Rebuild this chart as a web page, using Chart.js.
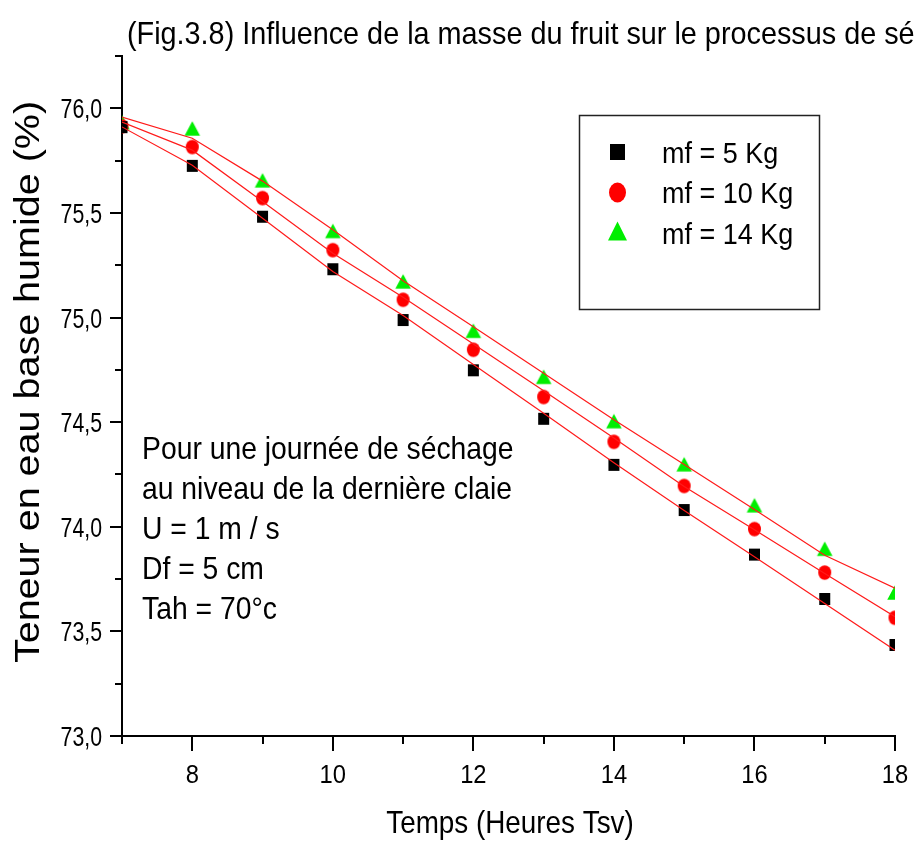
<!DOCTYPE html>
<html>
<head>
<meta charset="utf-8">
<script src="https://cdn.jsdelivr.net/npm/chart.js@4.4.0/dist/chart.umd.min.js"></script>
<style>
  html, body { margin: 0; padding: 0; background: #fff; }
  #wrap { width: 914px; height: 841px; position: relative; }
</style>
</head>
<body>
<div id="wrap"><canvas id="c"></canvas></div>
<script>
// Drying time (hours, solar time)
const hours = [7, 8, 9, 10, 11, 12, 13, 14, 15, 16, 17, 18];

// Measured moisture content, wet basis (%)
const mf5  = [75.91, 75.725, 75.482, 75.231, 74.988, 74.748, 74.516, 74.296, 74.080, 73.867, 73.655, 73.435];
const mf10 = [75.914, 75.815, 75.571, 75.322, 75.085, 74.846, 74.620, 74.406, 74.195, 73.989, 73.781, 73.565];
const mf14 = [75.934, 75.904, 75.656, 75.414, 75.173, 74.937, 74.717, 74.505, 74.299, 74.103, 73.895, 73.686];

// Fitted curves
const fit5  = [75.911, 75.728, 75.475, 75.220, 75.010, 74.776, 74.543, 74.306, 74.078, 73.857, 73.633, 73.410];
const fit10 = [75.934, 75.800, 75.555, 75.307, 75.097, 74.874, 74.650, 74.424, 74.193, 73.986, 73.777, 73.570];
const fit14 = [75.958, 75.857, 75.652, 75.420, 75.176, 74.956, 74.734, 74.512, 74.298, 74.083, 73.864, 73.706];

const seriesLabels = ['mf = 5 Kg', 'mf = 10 Kg', 'mf = 14 Kg'];

const yTicks = [73.0, 73.5, 74.0, 74.5, 75.0, 75.5, 76.0];
const xTicks = [8, 10, 12, 14, 16, 18];

const titleText = '(Fig.3.8) Influence de la masse du fruit sur le processus de séchage';
const xTitle = 'Temps (Heures Tsv)';
const yTitle = 'Teneur en eau base humide (%)';
const noteLines = [
  'Pour une journée de séchage',
  'au niveau de la dernière claie',
  'U = 1 m / s',
  'Df = 5 cm',
  'Tah = 70°c'
];

const FONT = '"Liberation Sans", Arial, Helvetica, sans-serif';

const pts = arr => hours.map((h, i) => ({ x: h, y: arr[i] }));

// Text with horizontal compression
function drawText(ctx, s, x, y, size, opts = {}) {
  ctx.save();
  ctx.font = size + 'px ' + FONT;
  ctx.fillStyle = '#000';
  ctx.textBaseline = 'alphabetic';
  ctx.textAlign = 'left';
  const sx = opts.sx || 1;
  const w = ctx.measureText(s).width * sx;
  let left = x;
  if (opts.align === 'center') left = x - w / 2;
  else if (opts.align === 'right') left = x - w;
  ctx.translate(left, y);
  ctx.scale(sx, 1);
  ctx.fillText(s, 0, 0);
  ctx.restore();
}

function shapePath(ctx, style, x, y, w, h) {
  ctx.beginPath();
  if (style === 'rect') {
    ctx.rect(x - w / 2, y - h / 2, w, h);
  } else if (style === 'circle') {
    ctx.ellipse(x, y, w / 2, h / 2, 0, 0, Math.PI * 2);
  } else {
    ctx.moveTo(x, y - h / 2);
    ctx.lineTo(x + w / 2, y + h / 2);
    ctx.lineTo(x - w / 2, y + h / 2);
    ctx.closePath();
  }
}

function drawMarker(ctx, style, color, x, y, w, h) {
  ctx.save();
  ctx.fillStyle = color;
  shapePath(ctx, style, x, y, w, h);
  ctx.fill();
  ctx.restore();
}

// Small sprite used as a point style (slightly taller than wide)
function sprite(style, color, w, h) {
  const c = document.createElement('canvas');
  c.width = Math.ceil(w) + 2;
  c.height = Math.ceil(h) + 2;
  const g = c.getContext('2d');
  g.fillStyle = color;
  shapePath(g, style, c.width / 2, c.height / 2, w, h);
  g.fill();
  return c;
}

const decor = {
  id: 'decor',
  afterDraw(chart) {
    const ctx = chart.ctx;
    const xs = chart.scales.x, ys = chart.scales.y;
    const area = chart.chartArea;

    ctx.save();
    ctx.strokeStyle = '#000';
    ctx.lineWidth = 2;
    // y ticks: major every 0.5, minor every 0.25
    for (let v = ys.min; v <= ys.max + 1e-9; v += 0.25) {
      const py = Math.round(ys.getPixelForValue(v));
      const major = Math.abs(v * 2 - Math.round(v * 2)) < 1e-6;
      const len = major ? 12 : 7;
      ctx.beginPath();
      ctx.moveTo(area.left - len, py);
      ctx.lineTo(area.left, py);
      ctx.stroke();
    }
    // x ticks: major every 2 h, minor every hour
    for (let h = xs.min; h <= xs.max + 1e-9; h += 1) {
      const px = Math.round(xs.getPixelForValue(h));
      const major = h % 2 === 0;
      const len = major ? 15 : 8;
      ctx.beginPath();
      ctx.moveTo(px, area.bottom);
      ctx.lineTo(px, area.bottom + len);
      ctx.stroke();
    }
    ctx.restore();

    yTicks.forEach(v => {
      const py = ys.getPixelForValue(v);
      drawText(ctx, v.toFixed(1).replace('.', ','), 102, py + 10, 28, { align: 'right', sx: 0.76 });
    });
    xTicks.forEach(h => {
      const px = xs.getPixelForValue(h);
      drawText(ctx, String(h), px, 783, 25, { align: 'center', sx: 0.95 });
    });

    // titles
    drawText(ctx, titleText, 127, 44, 32, { sx: 0.9 });
    drawText(ctx, xTitle, 510, 833, 32, { align: 'center', sx: 0.87 });
    ctx.save();
    ctx.font = '39.5px ' + FONT;
    ctx.fillStyle = '#000';
    ctx.textAlign = 'center';
    ctx.textBaseline = 'middle';
    ctx.translate(29, 382);
    ctx.scale(0.88, 1);
    ctx.rotate(-Math.PI / 2);
    ctx.fillText(yTitle, 0, 0);
    ctx.restore();

    // annotation
    noteLines.forEach((s, i) => drawText(ctx, s, 142, 459 + i * 40, 32, { sx: 0.885 }));

    // legend box
    ctx.save();
    ctx.strokeStyle = '#222';
    ctx.lineWidth = 1.5;
    ctx.strokeRect(579.5, 115.5, 240, 194);
    ctx.restore();
    const markers = chart.data.datasets.filter(d => d.isMeasured);
    const shapes = [[15, 16], [17, 20], [19, 19]];
    markers.forEach((d, i) => {
      const cy = [152, 192.5, 231][i];
      drawMarker(ctx, d.shape, d.backgroundColor, 617.5, cy, shapes[i][0], shapes[i][1]);
      drawText(ctx, d.label, 662, [162.5, 203, 244][i], 29, { sx: 0.93 });
    });
  }
};

const measured = (label, data, shape, color, w, h) => ({
  label, data: pts(data), isMeasured: true, shape,
  pointStyle: sprite(shape, color, w, h), pointRadius: 7, pointHoverRadius: 7,
  backgroundColor: color, borderColor: color, borderWidth: 0,
  showLine: false, clip: 0, order: 1
});
const fitted = data => ({
  label: '', data: pts(data), showLine: true, tension: 0,
  borderColor: '#ff1a1a', borderWidth: 1.2, pointRadius: 0,
  backgroundColor: 'transparent', clip: 0, order: 0
});

new Chart(document.getElementById('c'), {
  type: 'scatter',
  data: {
    datasets: [
      fitted(fit5), fitted(fit10), fitted(fit14),
      measured(seriesLabels[0], mf5, 'rect', '#000000', 11, 12),
      measured(seriesLabels[1], mf10, 'circle', '#ff0000', 13, 14.5),
      measured(seriesLabels[2], mf14, 'triangle', '#00ee00', 15.5, 14.5)
    ]
  },
  options: {
    responsive: true,
    maintainAspectRatio: false,
    animation: false,
    layout: { padding: { top: 56, right: 19, left: 0, bottom: 0 } },
    plugins: { legend: { display: false }, tooltip: { enabled: false }, title: { display: false } },
    scales: {
      x: {
        type: 'linear', min: 7, max: 18,
        ticks: { display: false },
        grid: { display: false },
        border: { display: true, color: '#000', width: 2 },
        afterFit(s) { s.height = 105; }
      },
      y: {
        min: 73, max: 76.25,
        ticks: { display: false },
        grid: { display: false },
        border: { display: true, color: '#000', width: 2 },
        afterFit(s) { s.width = 122; }
      }
    }
  },
  plugins: [decor]
});
</script>
</body>
</html>
